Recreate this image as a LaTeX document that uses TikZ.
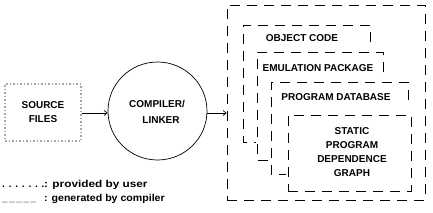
\documentclass[tikz,border=0pt]{standalone}
\usepackage{fontspec}
\setmainfont{Liberation Sans}
\usetikzlibrary{arrows.meta,shapes.geometric}
\begin{document}
\begin{tikzpicture}[x=1pt,y=-1pt,
  lbl/.style={font=\fontsize{10}{12}\selectfont\bfseries, align=center, inner sep=0pt},
  leg/.style={font=\fontsize{10}{12}\selectfont\bfseries, inner sep=0pt, text height=7pt, text depth=2pt, anchor=west},
  dbox/.style={line width=0.8pt, dash pattern=on 10pt off 7pt},
  arr/.style={line width=0.7pt, -{Straight Barb[length=3pt,width=5pt]}}]
\useasboundingbox (0,0) rectangle (433,212);
% source files
\node[draw=gray!70, line width=1.4pt, dash pattern=on 1.5pt off 2pt, minimum width=76pt, minimum height=57pt, inner sep=0pt] (src) at (43,112.5) {};
\node[lbl] (srct) at (src.center) {SOURCE\\[2pt]FILES};
% compiler
\node[draw, ellipse, line width=0.7pt, minimum width=99pt, minimum height=98pt, inner sep=0pt] (comp) at (157.5,111) {};
\node[lbl] (compt) at (157,112) {COMPILER/\\[4pt]\hspace*{8pt}LINKER};
% outer box
\node[draw, dbox, minimum width=198pt, minimum height=195pt, inner sep=0pt] (outer) at (326,102.5) {};
% arrows
\draw[arr] (src.east |- 0,113) -- (comp.west |- 0,113);
\draw[arr] (comp.east |- 0,113) -- (outer.west |- 0,113);
% object code box
\draw[dbox] (370,42) -- (370,25) -- (243,25) -- (243,142) -- (256,142);
\node[lbl] (obj) at (302,38) {OBJECT CODE};
% emulation package
\draw[dbox] (383,72) -- (383,52) -- (257,52) -- (257,160) -- (270,160);
\node[lbl] (emu) at (318,68) {EMULATION PACKAGE};
% program database
\draw[dbox] (408,100) -- (408,82) -- (271,82) -- (271,174) -- (286,174);
\node[lbl] (pdb) at (336,97) {PROGRAM DATABASE};
% static graph
\node[draw, dbox, minimum width=123pt, minimum height=76pt, inner sep=0pt] (sg) at (349.5,153) {};
\node[lbl] (sgt) at (352,152) {STATIC\\[2pt]PROGRAM\\[2pt]DEPENDENCE\\[2pt]GRAPH};
% legend
\node[leg] (leg1a) at (2,185) {.\kern3.8pt.\kern3.8pt.\kern3.8pt.\kern3.8pt.\kern3.8pt.\kern3.8pt.};
\node[leg] (leg1b) at (44,185) {\scalebox{1.18}[1]{: provided by user}};
\node[leg] (leg2a) at (2,199) {\_\kern1.5pt\_\kern1.5pt\_\kern1.5pt\_\kern1.5pt\_};
\node[leg] (leg2b) at (44,199) {\scalebox{1.06}[1]{: generated by compiler}};
\end{tikzpicture}
\end{document}
